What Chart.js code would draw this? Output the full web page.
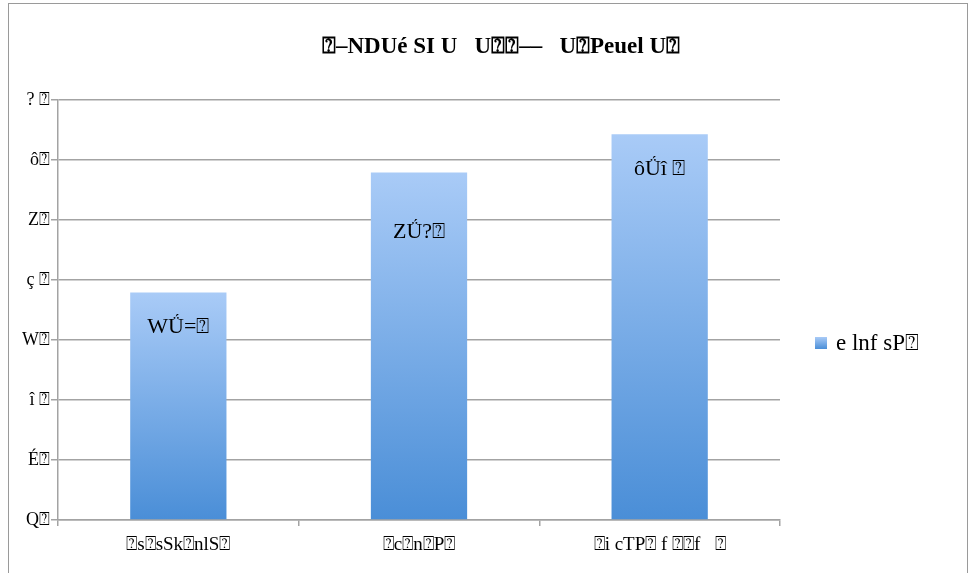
<!DOCTYPE html>
<html>
<head>
<meta charset="utf-8">
<script src="https://cdn.jsdelivr.net/npm/chart.js@4.4.1/dist/chart.umd.min.js"></script>
<style>
  body { margin: 0; background: #fff; }
  #wrap { position: absolute; left: 0; top: 0; width: 972px; height: 573px; }
</style>
</head>
<body>
<div id="wrap"><canvas id="chart" width="972" height="573"></canvas></div>
<script>
// labels as they show in the picture (broken encoding kept)
const titleText = '⍰–NDUé SI U   U⍰⍰––   U⍰Peuel U⍰';
const categories = ['⍰s⍰sSk⍰nlS⍰', '⍰c⍰n⍰P⍰', '⍰i cTP⍰ f ⍰⍰f   ⍰'];
const seriesName = 'e lnf sP⍰';
const values = [37.9, 57.9, 64.3];
const valueLabels = ['WǗ=⍰', 'ZǗ?⍰', 'ôǗî ⍰'];
const yTickLabels = ['Q⍰', 'É⍰', 'î ⍰', 'W⍰', 'ç ⍰', 'Z⍰', 'ô⍰', '? ⍰'];

const FONT = '"Liberation Serif", "Times New Roman", serif';
const GRID = '#a3a3a3';

function barGradient(ctx, top, bottom) {
  const g = ctx.createLinearGradient(0, top, 0, bottom);
  g.addColorStop(0, '#a9cbf7');
  g.addColorStop(1, '#4a8ed7');
  return g;
}

const decorPlugin = {
  id: 'decor',
  beforeDraw(chart) {
    const c = chart.ctx;
    c.save();
    c.fillStyle = '#fff';
    c.fillRect(0, 0, chart.width, chart.height);
    c.strokeStyle = '#9a9a9a';
    c.lineWidth = 1;
    c.strokeRect(8.5, 3.5, 959, 620);
    c.restore();
  },
  afterDraw(chart) {
    const c = chart.ctx;
    c.save();
    // title
    c.fillStyle = '#000';
    c.font = 'bold 23px ' + FONT;
    c.textAlign = 'center';
    c.textBaseline = 'middle';
    c.fillText(titleText, 501, 47);
    // value labels inside bars
    c.font = '22px ' + FONT;
    const meta = chart.getDatasetMeta(0);
    const drop = [35, 60, 35];
    meta.data.forEach((bar, i) => {
      c.fillText(valueLabels[i], bar.x, bar.y + drop[i]);
    });
    // legend
    const lx = chart.chartArea.right + 35, ly = 343;
    c.fillStyle = barGradient(c, ly - 6, ly + 6);
    c.fillRect(lx, ly - 6, 12, 12);
    c.fillStyle = '#000';
    c.textAlign = 'left';
    c.font = '23px ' + FONT;
    c.fillText(seriesName, lx + 21, ly + 1);
    c.restore();
  }
};

new Chart(document.getElementById('chart'), {
  type: 'bar',
  data: {
    labels: categories,
    datasets: [{
      label: seriesName,
      data: values,
      barPercentage: 0.4,
      categoryPercentage: 1.0,
      backgroundColor(ctx) {
        const chart = ctx.chart;
        if (!chart.chartArea || ctx.parsed === undefined) return '#7aaee8';
        const y = chart.scales.y;
        return barGradient(chart.ctx, y.getPixelForValue(ctx.parsed.y), y.getPixelForValue(0));
      }
    }]
  },
  options: {
    responsive: false,
    animation: false,
    layout: { padding: { top: 100, right: 192, left: 0, bottom: 0 } },
    plugins: { legend: { display: false }, title: { display: false }, tooltip: { enabled: false } },
    scales: {
      x: {
        afterFit(s) { s.height = 53; },
        grid: { offset: true, drawOnChartArea: false, color: GRID, lineWidth: 1.5, tickLength: 6 },
        border: { color: GRID, width: 1.5 },
        ticks: { color: '#000', font: { family: FONT, size: 19 }, padding: 8, maxRotation: 0 }
      },
      y: {
        min: 0, max: 70,
        afterFit(s) { s.width = 58; },
        grid: { color: GRID, lineWidth: 1.5, tickLength: 7 },
        border: { color: GRID, width: 1.5 },
        ticks: {
          stepSize: 10,
          color: '#000',
          font: { family: FONT, size: 18 },
          padding: 1,
          callback(v) { return yTickLabels[Math.round(v / 10)]; }
        }
      }
    }
  },
  plugins: [decorPlugin]
});
</script>
</body>
</html>
